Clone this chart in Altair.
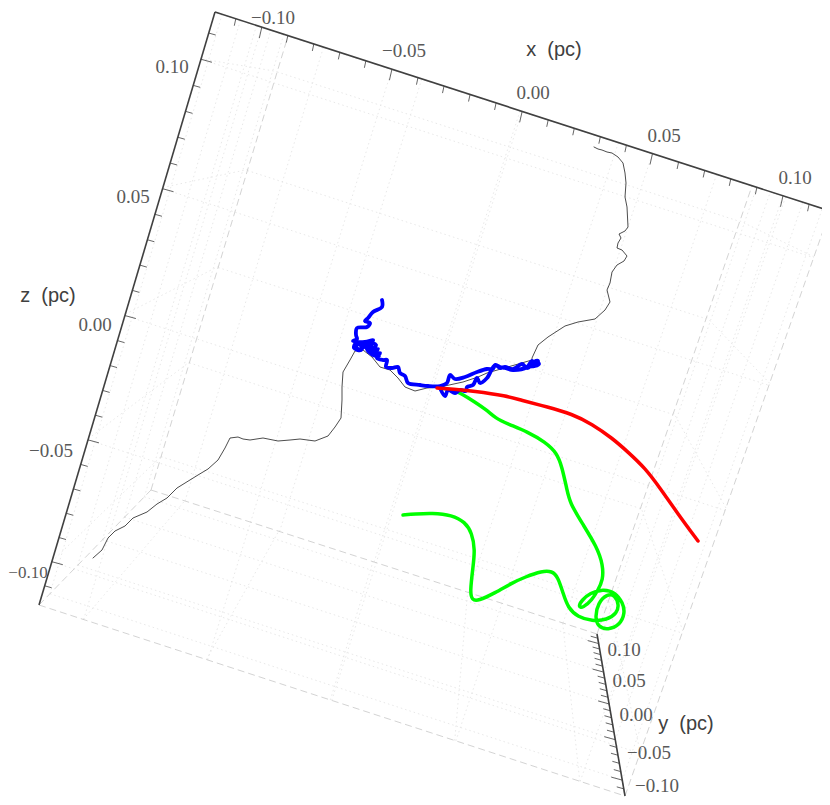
import altair as alt
import numpy as np
import pandas as pd

# box corners of the projected 3D frame
A, B, C, D = (39, 605), (215, 12), (830, 211), (625, 796)
E, F, G, H = (597, 634), (151, 490), (288, 36), (752, 186)
LIM = 0.118

black_x = [594,598,602,607,612,618,623,624,625,626,625,626,627,628,625,619,621,618,617,622,627,624,617,612,610,607,610,605,595,578,565,548,538,532,
           532,487,478,463,440,427,415,405,398,390,380,372,363,355,350,343,342,342,341,335,328,315,300,290,278,263,250,243,238,230,225,218,208,198,177,167,157,147,133,125,115,108,102,93]
black_y = [147,149,150,152,153,157,163,168,173,183,197,202,207,227,231,234,238,243,248,250,256,261,265,272,283,290,302,310,319,322,326,337,345,358,
           360,373,377,382,387,388,391,387,378,370,367,357,350,351,360,372,387,400,418,427,436,441,439,440,441,438,440,439,437,438,448,460,469,475,488,498,504,512,518,526,531,538,550,558]

blue_x = [440,445,448,455,460,466,467,473,477,480,487,495,500,505,513,522,527,532,537,539,535,530,534,538,536,532,527,513,505,500,495,493,487,477,465,455,450,447,440,428,420,408,405,400,398,392,386,387,383,377,380,374,378,372,376,369,371,375,368,366,372,379,373,367,362,356,354,361,363,356,358,364,372,373,365,353,357,356,357,367,370,365,368,373,382,382]
blue_y = [388,396,390,393,390,391,387,385,378,383,378,365,368,367,369,364,368,365,362,364,366,366,362,361,365,361,367,370,368,367,365,369,369,372,377,379,375,383,386,386,385,383,376,373,367,368,367,360,360,358,353,355,349,352,345,343,350,356,351,344,347,356,352,347,346,343,348,350,344,345,349,347,342,340,342,341,339,335,328,327,323,321,318,312,307,300]

red_x = [437,453,473,507,520,548,572,592,612,628,645,660,678,698]
red_y = [388,389,391,396,400,407,414,424,438,452,468,488,514,541]

green_x = [440,455,467,487,495,508,528,545,557,562,567,570,582,597,603,603,598,592,583,578,582,590,603,615,623,625,620,608,598,595,598,607,615,619,617,607,592,578,568,563,558,552,542,525,512,495,478,472,470,473,475,472,465,452,432,415,403]
green_y = [388,390,397,410,418,424,432,442,453,467,490,503,523,547,565,580,590,600,608,607,600,593,589,592,603,613,625,630,627,617,603,594,595,605,613,620,621,617,608,593,577,571,571,577,583,593,601,600,592,567,550,533,522,515,513,514,515]

x_labels = ["\u22120.10", "\u22120.05", "0.00", "0.05", "0.10"]
x_lab_x, x_lab_y = [273, 404, 533, 664, 795], [18, 51, 93, 136, 178]
z_labels = ["0.10", "0.05", "0.00", "\u22120.05"]
z_lab_x, z_lab_y = [172, 133, 95, 51], [67, 197, 325, 451]
z_low_label, z_low_x, z_low_y = ["\u22120.10"], [28], [573]
y_labels = ["0.10", "0.05", "0.00", "\u22120.05", "\u22120.10"]
y_lab_x, y_lab_y = [624, 629, 636, 649, 657], [650, 681, 715, 753, 786]
titles = ["x \u00a0(pc)", "z \u00a0(pc)", "y \u00a0(pc)"]
title_x, title_y = [554, 48, 686], [50, 296, 724]


def homography(p00, p10, p11, p01):
    """Unit square -> quad."""
    (x0, y0), (x1, y1), (x2, y2), (x3, y3) = p00, p10, p11, p01
    dx1, dx2, sx = x1 - x2, x3 - x2, x0 - x1 + x2 - x3
    dy1, dy2, sy = y1 - y2, y3 - y2, y0 - y1 + y2 - y3
    d = dx1 * dy2 - dx2 * dy1
    g = (sx * dy2 - dx2 * sy) / d
    h = (dx1 * sy - sx * dy1) / d
    m = np.array([[x1 - x0 + g * x1, x3 - x0 + h * x3, x0],
                  [y1 - y0 + g * y1, y3 - y0 + h * y3, y0],
                  [g, h, 1]])

    def f(u, v):
        r = m @ np.array([u, v, 1.0])
        return r[0] / r[2], r[1] / r[2]
    return f


def t(v):
    return (v + LIM) / (2 * LIM)


GRID = [-0.10, -0.05, 0.0, 0.05, 0.10]
faces = [(A, D, C, B), (F, E, H, G), (A, F, G, B), (D, E, H, C), (A, D, E, F)]
rows = []
for p in faces:
    f = homography(*p)
    for g in GRID:
        for a, b in (((t(g), 0), (t(g), 1)), ((0, t(g)), (1, t(g)))):
            (x1, y1), (x2, y2) = f(*a), f(*b)
            rows.append(dict(x=x1, y=y1, x2=x2, y2=y2))
grid_df = pd.DataFrame(rows)

edges = [(A, D), (D, C), (A, F), (F, G), (F, E), (E, H), (G, H), (B, G), (C, H), (D, E)]
edge_df = pd.DataFrame([dict(x=a[0], y=a[1], x2=b[0], y2=b[1]) for a, b in edges])
frame_df = pd.DataFrame([dict(x=a[0], y=a[1], x2=b[0], y2=b[1]) for a, b in [(A, B), (B, C), (D, E)]])

front = homography(A, D, C, B)
floor = homography(A, D, E, F)
tick_rows = []
for i in range(-11, 12):
    v = i / 100
    major = i % 5 == 0
    # x ticks on the top front edge
    px, py = front(t(v), 1)
    tick_rows.append(dict(x=px, y=py, x2=px - (2.5 if major else 1.5), y2=py + (11 if major else 7)))
    # z ticks on the left front edge
    px, py = front(0, t(v))
    tick_rows.append(dict(x=px, y=py, x2=px + (11 if major else 7), y2=py + (3 if major else 2)))
    # y ticks on the floor's right edge
    px, py = floor(1, t(v))
    tick_rows.append(dict(x=px, y=py, x2=px - (11 if major else 7), y2=py - (3 if major else 2)))
tick_df = pd.DataFrame(tick_rows)

xs = alt.Scale(domain=[8, 822], nice=False, zero=False)
ys = alt.Scale(domain=[797, 8], nice=False, zero=False)
X = alt.X("x:Q", scale=xs, axis=None)
Y = alt.Y("y:Q", scale=ys, axis=None)


def rules(df, **kw):
    return alt.Chart(df).mark_rule(**kw).encode(X, Y, x2="x2:Q", y2="y2:Q")


def curve(xv, yv, **kw):
    df = pd.DataFrame({"x": xv, "y": yv, "i": range(len(xv))})
    return alt.Chart(df).mark_line(strokeJoin="round", strokeCap="round", **kw).encode(X, Y, order="i:Q")


def text(labels, xv, yv, **kw):
    df = pd.DataFrame({"x": xv, "y": yv, "t": labels})
    return alt.Chart(df).mark_text(align="center", baseline="middle", **kw).encode(X, Y, text="t:N")


SERIF = dict(font="Liberation Serif", fontSize=19, color="#595959")
chart = alt.layer(
    rules(grid_df, color="#e2e2e2", strokeWidth=0.8, strokeDash=[1.5, 3]),
    rules(edge_df, color="#c8c8c8", strokeWidth=0.8, strokeDash=[7, 4]),
    rules(tick_df, color="#555555", strokeWidth=0.9),
    rules(frame_df, color="#404040", strokeWidth=1.6),
    curve(black_x, black_y, color="#000000", strokeWidth=0.7),
    curve(green_x, green_y, color="#00ff00", strokeWidth=3.5, interpolate="basis"),
    curve(blue_x, blue_y, color="#0000ff", strokeWidth=3.8, interpolate="catmull-rom"),
    curve(red_x, red_y, color="#ff0000", strokeWidth=3.5, interpolate="basis"),
    text(x_labels, x_lab_x, x_lab_y, **SERIF),
    text(z_labels, z_lab_x, z_lab_y, **SERIF),
    text(y_labels, y_lab_x, y_lab_y, **SERIF),
    text(z_low_label, z_low_x, z_low_y, font="Liberation Serif", fontSize=17, color="#595959"),
    text(titles, title_x, title_y, font="Liberation Sans", fontSize=20, color="#404040"),
).properties(width=814, height=789, padding=0, autosize=alt.AutoSizeParams(type="none")
).configure_view(stroke=None)

chart.save("out.html", embed_options={"renderer": "svg", "actions": False})
